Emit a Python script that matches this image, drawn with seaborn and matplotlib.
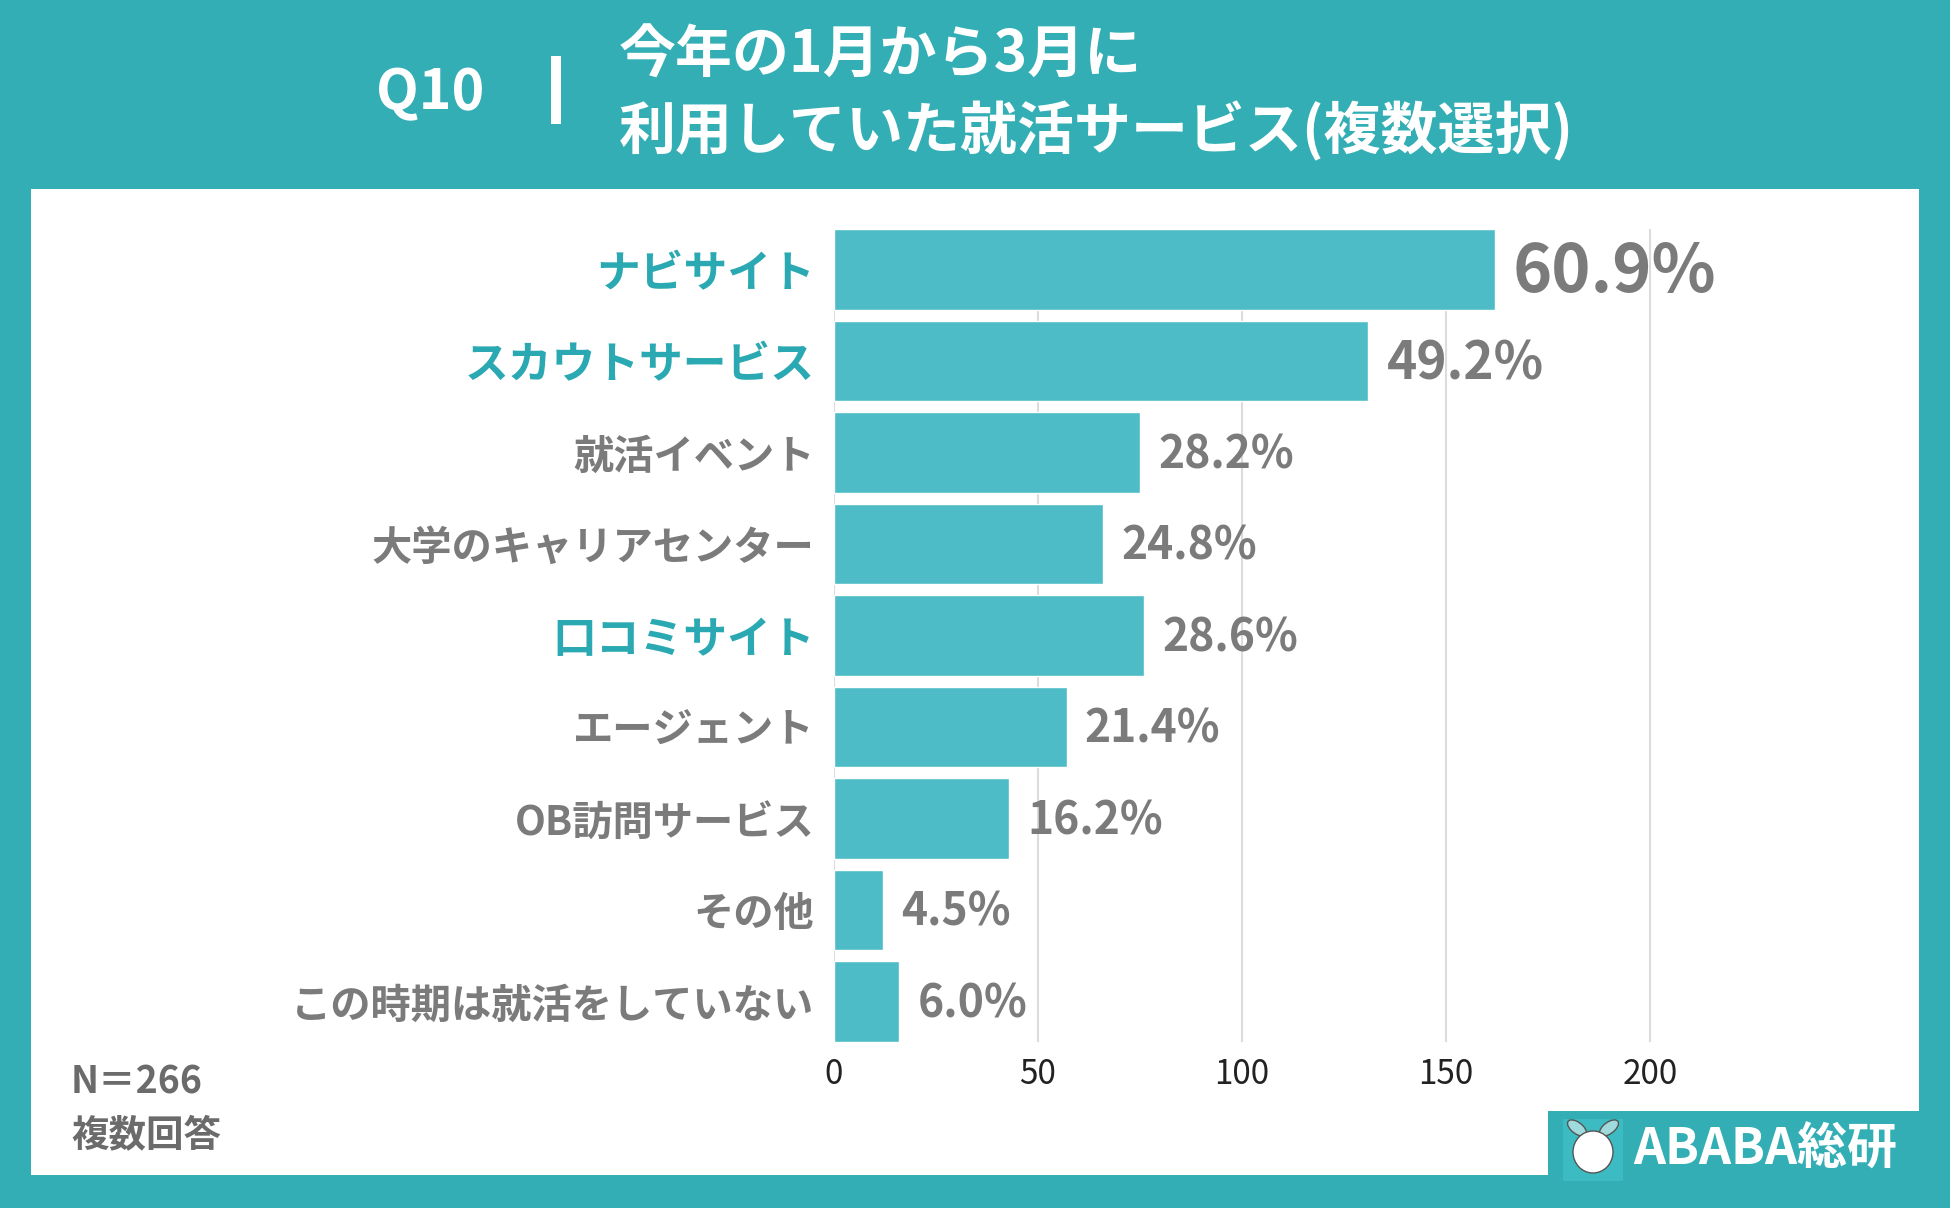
import numpy as np
import pandas as pd
import matplotlib
matplotlib.use("Agg")
import matplotlib.pyplot as plt
import seaborn as sns
from matplotlib.patches import Rectangle, Ellipse

# ---------------- DATA ----------------
categories = ["ナビサイト", "スカウトサービス", "就活イベント", "大学のキャリアセンター",
              "口コミサイト", "エージェント", "OB訪問サービス", "その他", "この時期は就活をしていない"]
counts = [162, 131, 75, 66, 76, 57, 43, 12, 16]
percents = ["60.9%", "49.2%", "28.2%", "24.8%", "28.6%", "21.4%", "16.2%", "4.5%", "6.0%"]
highlight = ["ナビサイト", "スカウトサービス", "口コミサイト"]
x_ticks = [0, 50, 100, 150, 200]

title_q = "Q10"
title_lines = ["今年の1月から3月に", "利用していた就活サービス(複数選択)"]
notes = ["N＝266", "複数回答"]
logo = "ABABA総研"

# colours
TEAL = "#33aeb5"
BAR = "#4ebcc6"
HL = "#2ba9b2"
GRAY = "#7b7b7b"

W, H = 1950, 1208

sns.set_style("white")
plt.rcParams["font.family"] = ["Noto Sans CJK JP", "DejaVu Sans"]

fig = plt.figure(figsize=(W / 100, H / 100), dpi=100)
fig.patch.set_facecolor(TEAL)

# white panel
fig.add_artist(Rectangle((31 / W, 1 - 1175 / H), (1919 - 31) / W, (1175 - 189) / H,
                         transform=fig.transFigure, facecolor="white", edgecolor="none", zorder=0))

# ---------------- BARS ----------------
df = pd.DataFrame({"category": categories, "count": counts})
ax = fig.add_axes([834 / W, 1 - 1042 / H, 230 * 204 / 50 / W, (1042 - 229) / H])
ax.set_facecolor("none")
sns.barplot(data=df, x="count", y="category", color=BAR, saturation=1, width=0.88, ax=ax)
ax.set_xlim(0, 230)
ax.set_ylim(len(categories) - 1 + 0.44, -0.44)
ax.set_axisbelow(True)
ax.grid(axis="x", color="#dcdcdc", lw=1.5)
ax.grid(axis="y", visible=False)
sns.despine(ax=ax, left=True, bottom=True)
ax.set_xlabel("")
ax.set_ylabel("")
ax.set_xticks(x_ticks)
ax.tick_params(axis="x", length=0, pad=11, labelsize=24, labelcolor="#222222")
ax.tick_params(axis="y", length=0, pad=14)

for lab in ax.get_yticklabels():
    lab.set_fontweight("bold")
    if lab.get_text() in highlight:
        lab.set_color(HL)
        lab.set_fontsize(31.5)
    else:
        lab.set_color(GRAY)
        lab.set_fontsize(29)

# value labels: biggest value largest text
rank = np.argsort(counts)[::-1]
for i, (c, p) in enumerate(zip(counts, percents)):
    if i == rank[0]:
        fs = 48
    elif i == rank[1]:
        fs = 37
    else:
        fs = 32
    ax.annotate(p, (c, i), xytext=(13, -2), textcoords="offset points",
                ha="left", va="center", fontsize=fs, fontweight="bold", color=GRAY)

# ---------------- HEADER ----------------
fig.text(376 / W, 1 - 93 / H, title_q, color="white", fontsize=40, fontweight="bold",
         ha="left", va="center")
fig.add_artist(Rectangle((551 / W, 1 - 124 / H), 10 / W, 68 / H, transform=fig.transFigure,
                         facecolor="white", edgecolor="none"))
fig.text(619 / W, 1 - 56 / H, title_lines[0], color="white", fontsize=41, fontweight="bold",
         ha="left", va="center")
fig.text(619 / W, 1 - 131 / H, title_lines[1], color="white", fontsize=41, fontweight="bold",
         ha="left", va="center")

# ---------------- FOOTER ----------------
fig.text(71 / W, 1 - 1082 / H, notes[0], color="#6b6b6b", fontsize=27, fontweight="bold",
         ha="left", va="center")
fig.text(71 / W, 1 - 1135 / H, notes[1], color="#6b6b6b", fontsize=27, fontweight="bold",
         ha="left", va="center")

# logo box
fig.add_artist(Rectangle((1548 / W, 1 - 1176 / H), (1919 - 1548) / W, (1176 - 1111) / H,
                         transform=fig.transFigure, facecolor=TEAL, edgecolor="none"))
fig.add_artist(Rectangle((1563 / W, 1 - 1181 / H), 60 / W, 62 / H,
                         transform=fig.transFigure, facecolor="#3cbcc2", edgecolor="none"))
fig.add_artist(Ellipse((1577 / W, 1 - 1128 / H), 14 / W, 18 / H, angle=30,
                       transform=fig.transFigure, facecolor="#9fdadd", edgecolor="#555555", lw=1))
fig.add_artist(Ellipse((1609 / W, 1 - 1128 / H), 14 / W, 18 / H, angle=-30,
                       transform=fig.transFigure, facecolor="#9fdadd", edgecolor="#555555", lw=1))
fig.add_artist(Ellipse((1593 / W, 1 - 1152 / H), 40 / W, 42 / H,
                       transform=fig.transFigure, facecolor="white", edgecolor="#555555", lw=1))
fig.text(1633 / W, 1 - 1150 / H, logo, color="white", fontsize=36, fontweight="bold",
         ha="left", va="center")

fig.savefig("out.png", dpi=100, facecolor=fig.get_facecolor())
